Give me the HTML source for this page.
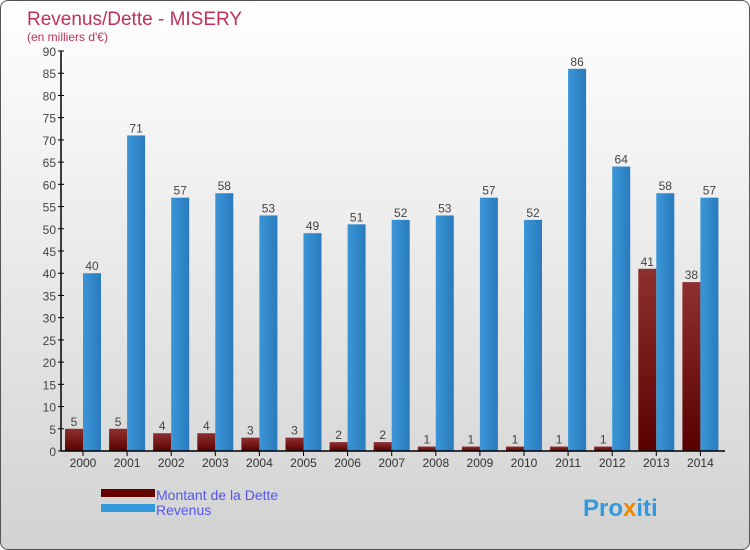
<!DOCTYPE html>
<html><head><meta charset="utf-8"><style>
body{margin:0}
#c{width:748px;height:548px;border:1px solid #555;border-radius:8px;overflow:hidden;background:linear-gradient(#ffffff,#d2d2d2);position:relative;font-family:"Liberation Sans",sans-serif}
</style></head><body>
<div id="c">
<svg id="s" width="748" height="548" xmlns="http://www.w3.org/2000/svg">
<defs>
<linearGradient id="gd" x1="0" y1="0" x2="0" y2="1"><stop offset="0" stop-color="#8e3030"/><stop offset="1" stop-color="#5a0000"/></linearGradient>
<linearGradient id="gr" x1="0" y1="0" x2="1" y2="0"><stop offset="0" stop-color="#3a96d8"/><stop offset="1" stop-color="#2a7bbd"/></linearGradient>
</defs>
<text x="26" y="24" font-size="19" fill="#c0305a">Revenus/Dette - MISERY</text>
<text x="26" y="40" font-size="12" fill="#c0305a">(en milliers d'€)</text>
<g id="g"></g>
<rect x="100" y="488" width="54" height="8" fill="#660000"/>
<rect x="100" y="503" width="54" height="8" fill="#3399dd"/>
<text x="155" y="499" font-size="14" fill="#5555ee">Montant de la Dette</text>
<text x="155" y="514" font-size="14" fill="#5555ee">Revenus</text>
<text x="582" y="515" font-size="24" font-weight="bold" fill="#3399dd">Pro<tspan fill="#ee8800">x</tspan>iti</text>
</svg></div>
<script>
const years=["2000","2001","2002","2003","2004","2005","2006","2007","2008","2009","2010","2011","2012","2013","2014"];
const debt=[5,5,4,4,3,3,2,2,1,1,1,1,1,41,38];
const revenue=[40,71,57,58,53,49,51,52,53,57,52,86,64,58,57];
const ticks=[0,5,10,15,20,25,30,35,40,45,50,55,60,65,70,75,80,85,90];
const NS="http://www.w3.org/2000/svg",g=document.getElementById('g');
const y=v=>450-v*400/90, x=i=>82+i*44.1;
function mk(t,a,txt){const e=document.createElementNS(NS,t);for(const k in a)e.setAttribute(k,a[k]);if(txt!==undefined)e.textContent=txt;g.appendChild(e);return e;}
ticks.forEach(t=>{
 const l=mk('line',{x1:57,x2:63,y1:y(t),y2:y(t),stroke:'#000'});
 
 
 const tx=mk('text',{x:55,y:y(t)+5,'font-size':12,'text-anchor':'end',fill:'#444'},t);
 
 
});
years.forEach((yr,i)=>{
 const c=x(i);
 const d=mk('rect',{x:c-18,y:y(debt[i]),width:18,height:450-y(debt[i]),fill:'url(#gd)'});
 
 
 const r=mk('rect',{x:c,y:y(revenue[i]),width:18,height:450-y(revenue[i]),fill:'url(#gr)'});
 
 
 const dl=mk('text',{x:c-9,y:y(debt[i])-3,'font-size':12,'text-anchor':'middle',fill:'#444'},debt[i]);
 
 
 const rl=mk('text',{x:c+9,y:y(revenue[i])-3,'font-size':12,'text-anchor':'middle',fill:'#444'},revenue[i]);
 
 
 const tk=mk('line',{x1:c,x2:c,y1:450,y2:455,stroke:'#000'});
 
 
 const xl=mk('text',{x:c,y:466,'font-size':12,'text-anchor':'middle',fill:'#333'},yr);
 
 
});
const ya=mk('line',{x1:60,x2:60,y1:50,y2:450,stroke:'#000','stroke-width':1.5});


const xa=mk('line',{x1:60,x2:724,y1:450,y2:450,stroke:'#000','stroke-width':1.5});


</script>
</body></html>
